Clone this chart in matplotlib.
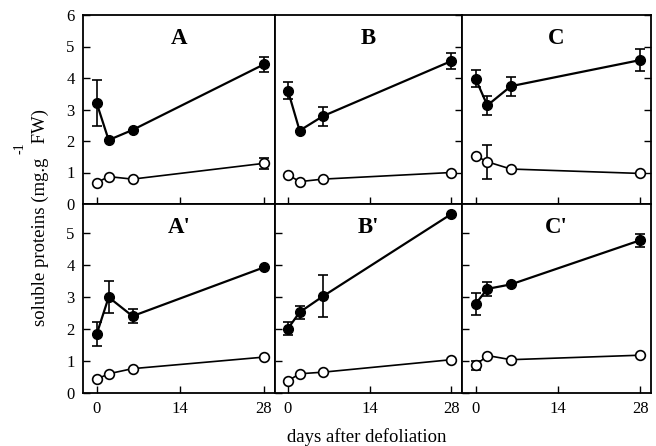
import matplotlib
matplotlib.use("Agg")
import matplotlib.pyplot as plt

plt.rcParams['font.family'] = ['Liberation Serif', 'DejaVu Serif']

days = [0, 2, 6, 28]
x_ticks = [0, 14, 28]
panel_labels = ["A", "B", "C", "A'", "B'", "C'"]

# filled (closed circles) series and errors
filled = {
    "A":  [3.20, 2.03, 2.35, 4.43],
    "B":  [3.60, 2.33, 2.79, 4.54],
    "C":  [3.98, 3.13, 3.74, 4.57],
    "A'": [1.84, 2.99, 2.40, 3.92],
    "B'": [2.01, 2.52, 3.02, 5.59],
    "C'": [2.78, 3.25, 3.39, 4.77],
}
filled_err = {
    "A":  [0.73, 0.0, 0.0, 0.25],
    "B":  [0.27, 0.0, 0.30, 0.25],
    "C":  [0.27, 0.29, 0.30, 0.35],
    "A'": [0.37, 0.50, 0.23, 0.0],
    "B'": [0.20, 0.20, 0.65, 0.0],
    "C'": [0.33, 0.23, 0.0, 0.20],
}
# open circles series and errors
opened = {
    "A":  [0.68, 0.87, 0.79, 1.29],
    "B":  [0.93, 0.71, 0.79, 1.00],
    "C":  [1.53, 1.34, 1.11, 0.97],
    "A'": [0.43, 0.60, 0.76, 1.12],
    "B'": [0.38, 0.60, 0.65, 1.04],
    "C'": [0.86, 1.17, 1.04, 1.18],
}
opened_err = {
    "A":  [0.0, 0.0, 0.0, 0.17],
    "B":  [0.0, 0.0, 0.0, 0.0],
    "C":  [0.0, 0.54, 0.0, 0.0],
    "A'": [0.0, 0.0, 0.0, 0.0],
    "B'": [0.0, 0.0, 0.0, 0.0],
    "C'": [0.13, 0.0, 0.0, 0.0],
}

W, H = 656, 446
fig = plt.figure(figsize=(W / 100, H / 100), dpi=100)

col_edges = [83, 274.5, 462, 651]
row_edges = [(15, 204), (204, 393)]
row_ylim = [(0, 6), (0, 5.9)]
# tick side per panel
tick_side = {"A": "left", "B": "right", "C": "right",
             "A'": "left", "B'": "left", "C'": "left"}

for i, lab in enumerate(panel_labels):
    r, c = divmod(i, 3)
    x0, x1 = col_edges[c], col_edges[c + 1]
    ytop, ybot = row_edges[r]
    ax = fig.add_axes([x0 / W, 1 - ybot / H, (x1 - x0) / W, (ybot - ytop) / H])
    ax.errorbar(days, filled[lab], yerr=filled_err[lab], fmt='-o', color='black',
                mfc='black', mec='black', ms=7, lw=1.6, capsize=3.8,
                elinewidth=1.2, capthick=1.2, zorder=3)
    ax.errorbar(days, opened[lab], yerr=opened_err[lab], fmt='-o', color='black',
                mfc='white', mec='black', ms=7, mew=1.2, lw=1.2, capsize=3.8,
                elinewidth=1.2, capthick=1.2, zorder=3)
    ax.set_xlim(-2.3, 29.8)
    ax.set_ylim(*row_ylim[r])
    ax.set_xticks(x_ticks)
    ax.set_yticks(range(0, 7) if r == 0 else range(0, 6))
    side = tick_side[lab]
    ax.tick_params(axis='x', direction='in', length=5, width=1.0,
                   labelbottom=(r == 1), labelsize=12, pad=6)
    ax.tick_params(axis='y', direction='in', length=5, width=1.0,
                   left=(side == 'left'), right=(side == 'right'),
                   labelleft=(c == 0), labelsize=12, pad=6)
    for s in ax.spines.values():
        s.set_linewidth(1.3)
    ax.text(0.5, 0.93, lab, transform=ax.transAxes, ha='center', va='top',
            fontsize=16.5, fontweight='bold')

fig.text(40 / W, 1 - 217 / H, "soluble proteins (mg.g   FW)", rotation=90,
         ha='center', va='center', fontsize=13.5)
fig.text(20 / W, 1 - 148 / H, "-1", rotation=90, ha='center', va='center',
         fontsize=10)
fig.text(367 / W, 1 - 437 / H, "days after defoliation", ha='center',
         va='center', fontsize=13.5)

fig.savefig("out.png", dpi=100)
